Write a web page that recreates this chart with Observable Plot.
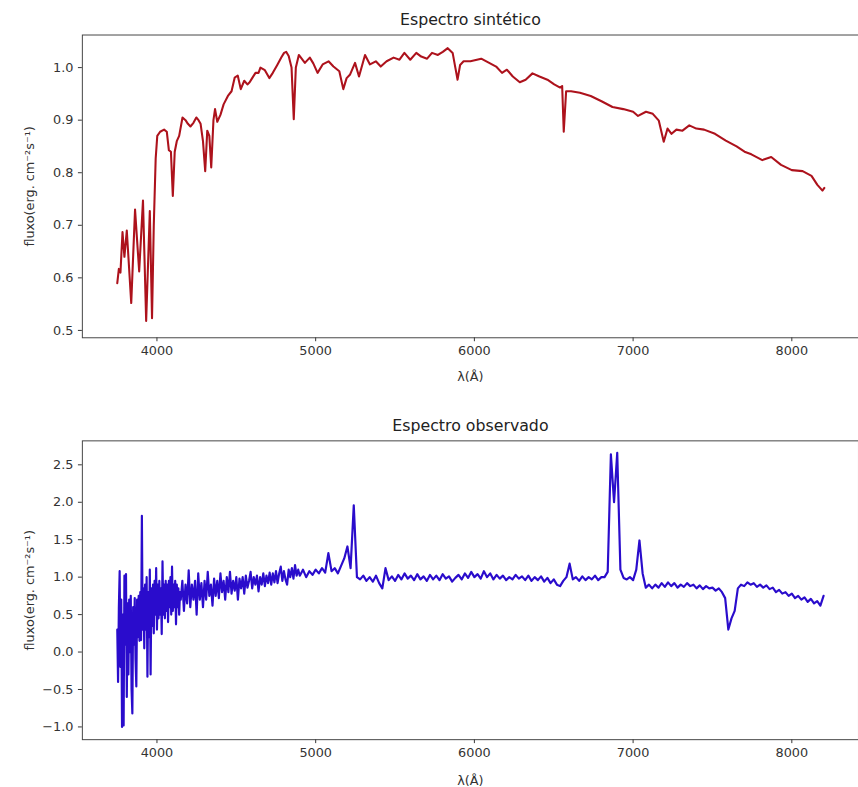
<!DOCTYPE html>
<html><head><meta charset="utf-8">
<script src="https://cdn.jsdelivr.net/npm/d3@7"></script>
<script src="https://cdn.jsdelivr.net/npm/@observablehq/plot@0.6"></script>
<style>
html,body{margin:0;padding:0;overflow:hidden;background:#fff;width:858px;height:787px;}
#top{position:absolute;left:0;top:0;}
#bottom{position:absolute;left:0;top:395px;}
</style></head><body>
<div id="top"></div><div id="bottom"></div>
<script>
// ---- data ----
const xTicks = [4000, 5000, 6000, 7000, 8000];
const synthTicks = [0.5, 0.6, 0.7, 0.8, 0.9, 1.0];
const obsTicks = [-1.0, -0.5, 0.0, 0.5, 1.0, 1.5, 2.0, 2.5];

const synthTitle = "Espectro sintético";
const obsTitle = "Espectro observado";
const xLabel = "λ(Å)";
const yLabel = "fluxo(erg. cm⁻²s⁻¹)";

const synthWave = [3750,3760,3770,3783,3795,3810,3838,3862,3888,3912,3932,3955,3969,3980,3992,4002,4020,4045,4062,4075,4088,4100,4112,4125,4140,4161,4180,4195,4211,4230,4248,4262,4275,4290,4304,4317,4330,4342,4356,4366,4380,4400,4420,4447,4470,4490,4509,4528,4550,4570,4584,4600,4621,4640,4652,4680,4708,4730,4758,4785,4801,4814,4830,4848,4862,4875,4894,4932,4963,4985,5012,5044,5081,5112,5149,5174,5195,5217,5248,5273,5311,5342,5379,5410,5447,5491,5528,5559,5596,5634,5665,5702,5733,5770,5801,5832,5863,5880,5894,5910,5932,5975,6043,6093,6137,6174,6205,6242,6286,6323,6366,6410,6460,6503,6540,6553,6563,6578,6609,6665,6733,6801,6870,6938,7000,7031,7081,7124,7162,7193,7217,7242,7273,7311,7354,7398,7447,7516,7584,7652,7702,7745,7814,7870,7932,8000,8068,8124,8161,8193,8205];
const synthFlux = [0.59,0.617,0.61,0.687,0.64,0.69,0.552,0.73,0.612,0.747,0.518,0.727,0.523,0.70,0.827,0.87,0.878,0.882,0.878,0.843,0.84,0.756,0.84,0.86,0.87,0.905,0.90,0.893,0.888,0.895,0.905,0.9,0.893,0.86,0.803,0.88,0.87,0.81,0.90,0.921,0.897,0.91,0.93,0.946,0.955,0.981,0.985,0.959,0.975,0.968,0.972,0.98,0.99,0.99,1.0,0.995,0.98,0.99,1.005,1.02,1.028,1.03,1.022,1.0,0.902,1.0,1.024,1.009,1.019,1.008,0.99,1.006,1.012,1.002,0.993,0.959,0.98,0.987,1.009,0.983,1.024,1.006,1.012,1.002,1.012,1.019,1.015,1.028,1.015,1.028,1.021,1.017,1.028,1.024,1.03,1.037,1.028,1.0,0.977,1.005,1.012,1.012,1.017,1.009,1.002,0.99,0.996,0.983,0.972,0.977,0.989,0.983,0.977,0.968,0.962,0.965,0.878,0.955,0.955,0.952,0.946,0.936,0.925,0.921,0.916,0.908,0.916,0.912,0.899,0.859,0.884,0.874,0.882,0.88,0.89,0.884,0.882,0.874,0.861,0.85,0.84,0.835,0.824,0.83,0.815,0.805,0.803,0.794,0.777,0.766,0.771];

// observed spectrum, sampled in three segments (start wavelength, step in Å, flux)
const obsBlueStart = 3750, obsBlueStep = 5;
const obsBlueFlux = [0.3,-0.4,0.6,1.08,-0.2,0.7,-1.0,0.5,-0.98,1.02,0.1,1.04,-0.6,0.65,-0.3,0.7,0.0,0.75,-0.5,-0.82,0.6,0.1,0.72,-0.1,-0.46,0.7,0.2,0.75,0.15,0.8,0.16,1.82,0.3,0.85,0.05,0.9,0.3,1.0,-0.33,0.8,0.2,1.1,-0.3,0.85,0.35,0.9,0.25,0.95,0.5,1.12,0.3,0.9,0.45,0.95,0.5,0.85,0.24,1.21,0.5,0.9,0.45,0.95,0.55,0.9,0.4,0.95,0.6,1.0,0.5,1.14,0.55,0.9,0.6,0.95,0.37,0.9,0.6,0.85,0.5,0.8];
const obsMidStart = 4150, obsMidStep = 10;
const obsMidFlux = [0.7,0.95,0.55,0.9,0.65,1.09,0.6,0.9,0.7,0.95,0.5,1.05,0.7,0.92,0.6,0.95,0.7,1.07,0.75,0.9,0.62,0.98,0.75,0.95,0.72,1.05,0.8,0.95,0.7,1.0,0.8,1.07,0.78,0.95,0.82,1.0,0.7,0.98,0.85,1.0,0.78,1.02,0.86,0.95,1.07,0.85,1.0,0.9,1.02,0.81,1.0,0.9,1.05,0.88,1.02,0.92,1.06,0.9,1.05,0.93,1.08,0.92,1.05,1.14,0.95,1.08,0.97,0.9,1.1,1.0,1.12,0.98,1.16,1.02,1.1];
const obsRedStart = 4900, obsRedStep = 20;
const obsRedFlux = [1.02,1.1,1.0,1.08,1.03,1.1,1.05,1.12,1.06,1.32,1.08,1.12,1.05,1.15,1.25,1.41,1.12,1.96,1.0,0.97,1.02,0.95,1.0,0.94,1.02,0.92,0.85,1.12,0.96,1.01,0.95,1.03,0.97,1.05,0.98,1.02,0.96,1.04,0.97,1.01,0.95,1.03,0.97,1.02,0.96,1.04,0.98,1.01,0.94,0.99,1.03,0.97,1.05,0.99,1.07,1.0,1.04,0.98,1.08,1.0,1.05,0.97,1.03,0.98,1.02,0.96,1.0,0.97,1.03,0.98,1.01,0.96,1.02,0.95,1.0,0.96,1.01,0.94,0.99,0.92,0.97,0.9,0.88,0.95,1.0,1.18,0.97,1.0,0.95,1.01,0.96,1.0,0.97,1.02,0.96,1.0,1.0,1.07,2.64,2.0,2.66,1.1,0.99,0.97,1.0,0.96,1.1,1.49,1.05,0.86,0.9,0.85,0.9,0.86,0.92,0.87,0.93,0.88,0.92,0.86,0.9,0.87,0.92,0.88,0.9,0.85,0.89,0.84,0.88,0.85,0.86,0.82,0.85,0.8,0.72,0.3,0.45,0.55,0.85,0.9,0.88,0.93,0.9,0.92,0.87,0.9,0.86,0.89,0.84,0.86,0.8,0.83,0.78,0.8,0.75,0.78,0.72,0.75,0.7,0.73,0.67,0.71,0.65,0.68,0.62,0.75];

// ---- tables ----
const synth = synthWave.map((w, i) => ({w, f: synthFlux[i]}));
const seg = (start, step, flux) => flux.map((f, i) => ({w: start + i * step, f}));
const observed = [
  ...seg(obsBlueStart, obsBlueStep, obsBlueFlux),
  ...seg(obsMidStart, obsMidStep, obsMidFlux),
  ...seg(obsRedStart, obsRedStep, obsRedFlux)
];

const FONT = "DejaVu Sans, sans-serif";
const INK = "#333";
const baseStyle = {fontFamily: FONT, fontSize: "13px", color: INK, background: "white", overflow: "visible"};
const fmt1 = d3.format(".1f");

function panel({data, color, width, ydomain, yticks, title, height, marginTop, marginBottom, xlabDy}) {
  return Plot.plot({
    width: 870, height, marginTop, marginBottom, marginLeft: 83, marginRight: 0,
    style: baseStyle,
    x: {domain: [3530, 8420]},
    y: {domain: ydomain},
    marks: [
      Plot.axisX({ticks: xTicks, tickSize: 4, tickPadding: 4, tickFormat: d3.format("d"), label: null, fill: INK}),
      Plot.axisY({ticks: yticks, tickSize: 4, tickPadding: 5, tickFormat: fmt1, label: null, fill: INK}),
      Plot.line(data, {x: "w", y: "f", stroke: color, strokeWidth: width, strokeLinejoin: "round"}),
      Plot.frame({stroke: "#444", strokeWidth: 1}),
      Plot.text([title], {text: d => d, frameAnchor: "top", lineAnchor: "middle", dy: -15, fontSize: 16, fill: "#222"}),
      Plot.text([xLabel], {text: d => d, frameAnchor: "bottom", lineAnchor: "middle", dy: xlabDy, fontSize: 13, fill: INK}),
      Plot.text([yLabel], {text: d => d, frameAnchor: "left", textAnchor: "middle", lineAnchor: "middle", dx: -53, rotate: -90, fontSize: 13, fill: INK})
    ]
  });
}

document.getElementById("top").append(panel({
  data: synth, color: "#ad121c", width: 2.1, ydomain: [0.486, 1.062], yticks: synthTicks,
  title: synthTitle, height: 395, marginTop: 35, marginBottom: 53, xlabDy: 40
}));
document.getElementById("bottom").append(panel({
  data: observed, color: "#2a0ccc", width: 2.2, ydomain: [-1.17, 2.82], yticks: obsTicks,
  title: obsTitle, height: 392, marginTop: 46, marginBottom: 43, xlabDy: 42
}));
</script>
</body></html>
